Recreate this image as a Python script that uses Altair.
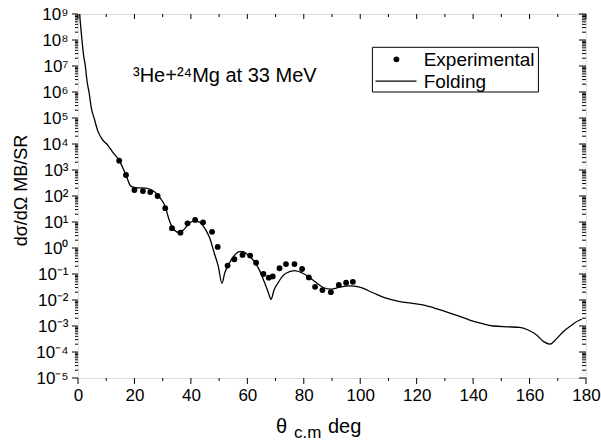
import altair as alt
import pandas as pd

# ---------------- data ----------------
exp_theta = [14.6, 17.0, 20.0, 23.0, 25.6, 28.2, 30.9, 33.3, 36.3, 38.8, 41.5, 44.3,
             47.5, 49.5, 53.0, 55.4, 58.3, 61.0, 63.1, 65.7, 67.6, 69.0, 71.4, 73.7,
             76.7, 79.4, 81.8, 84.0, 86.6, 89.6, 92.4, 95.0, 97.4]
exp_sigma = [2280, 640, 170, 155, 142, 100, 34, 5.8, 3.9, 8.9, 12, 9.7,
             4.2, 1.1, 0.21, 0.37, 0.54, 0.51, 0.27, 0.10, 0.072, 0.081, 0.166, 0.24,
             0.24, 0.156, 0.074, 0.032, 0.024, 0.020, 0.038, 0.046, 0.050]

fold_theta = [0.4, 0.6, 1.0, 1.4, 2.0, 2.6, 3.2, 3.9, 4.8, 5.7, 7.0, 8.6, 10.2, 12.2,
              14.6, 17.0, 18.7, 20.5, 24.0, 27.0, 28.8, 30.9, 32.3, 34.1, 35.9, 37.6,
              39.4, 41.2, 42.9, 45.3, 46.5, 48.3, 49.7, 51.0, 52.0, 53.6, 55.3, 57.2,
              58.5, 60.0, 62.5, 64.5, 66.0, 67.4, 68.4, 69.5, 70.8, 72.2, 73.7, 76.7,
              79.6, 83.2, 86.7, 89.7, 92.7, 96.2, 99.8, 104.5, 109.2, 114.0, 118.0,
              122.2, 126.0, 130.5, 134.5, 138.8, 143.0, 147.1, 152.0, 156.5, 159.5,
              162.5, 165.0, 167.2, 169.5, 171.9, 174.5, 177.8, 178.5]
fold_sigma = [3e9, 1e9, 3e8, 1e8, 2.5e7, 1e7, 2.6e6, 1e6, 2.2e5, 1e5, 3.2e4, 1.5e4, 1e4, 5e3,
              2.3e3, 650, 240, 210, 200, 148, 93, 39, 12, 4.9, 3.9, 5.2,
              8.9, 11, 10.2, 4.9, 2.7, 0.63, 0.2, 0.044, 0.11, 0.26, 0.5, 0.72,
              0.72, 0.56, 0.3, 0.126, 0.05, 0.02, 0.0107, 0.025, 0.044, 0.076, 0.107, 0.135,
              0.107, 0.059, 0.031, 0.026, 0.031, 0.035, 0.031, 0.019, 0.0117, 0.0087, 0.0076,
              0.0065, 0.005, 0.0035, 0.0025, 0.0017, 0.00126, 0.001, 0.00093, 0.00089, 0.0007,
              0.00045, 0.00025, 0.0002, 0.00032, 0.0006, 0.001, 0.0017, 0.0018]

series_names = ["Experimental", "Folding"]
x_major = [0, 20, 40, 60, 80, 100, 120, 140, 160, 180]
x_minor = [10, 30, 50, 70, 90, 110, 130, 150, 170]
y_decades = [1e-5, 1e-4, 1e-3, 1e-2, 1e-1, 1e0, 1e1, 1e2, 1e3, 1e4, 1e5, 1e6, 1e7, 1e8, 1e9]
y_minor = [m * d for d in y_decades[:-1] for m in range(2, 10)]
y_labels = ["10⁻⁵", "10⁻⁴", "10⁻³", "10⁻²", "10⁻¹", "10⁰", "10¹", "10²",
            "10³", "10⁴", "10⁵", "10⁶", "10⁷", "10⁸", "10⁹"]
annotation = "³He+²⁴Mg at 33 MeV"
y_title = "dσ/dΩ MB/SR"

# ---------------- layout ----------------
W, H = 508, 364
FONT = "Liberation Sans"

exp_df = pd.DataFrame({"theta": exp_theta, "sigma": exp_sigma})
fold_df = pd.DataFrame({"theta": fold_theta, "sigma": fold_sigma})

xscale = alt.Scale(domain=[0, 180], nice=False, zero=False)
yscale = alt.Scale(type="log", domain=[1e-5, 1e9], nice=False)

label_expr = "[" + ",".join("'%s'" % s for s in y_labels) + "][round(log(datum.value)/LN10)+5]"

ax_bottom = alt.Axis(orient="bottom", values=x_major, ticks=False, domain=False, grid=False,
                     labelFontSize=17, labelFont=FONT, labelColor="black", labelPadding=9,
                     labelFlush=False, labelOverlap=False, title=None)
ax_left = alt.Axis(orient="left", values=y_decades, ticks=False, domain=False, grid=False,
                   labelExpr=label_expr, labelFontSize=17, labelFont=FONT, labelColor="black",
                   labelPadding=10, labelFlush=False, labelOverlap=False,
                   title=y_title, titleFont=FONT, titleFontSize=18,
                   titleFontWeight="normal", titleColor="black", titleAngle=-90,
                   titleX=-52, titleY=176, titleAlign="center", titleBaseline="alphabetic")

line = alt.Chart(fold_df).mark_line(color="black", strokeWidth=1.3, clip=True,
                                    interpolate="monotone").encode(
    x=alt.X("theta:Q", scale=xscale, axis=ax_bottom),
    y=alt.Y("sigma:Q", scale=yscale, axis=ax_left))

points = alt.Chart(exp_df).mark_point(filled=True, color="black", opacity=1, size=34,
                                      shape="circle").encode(
    x=alt.X("theta:Q", scale=xscale, axis=None),
    y=alt.Y("sigma:Q", scale=yscale, axis=None))


# ---------------- tick marks (drawn as thin tick marks through the scales) ----------------
def xticks(vals, size, ypix):
    return alt.Chart(pd.DataFrame({"v": vals})).mark_tick(
        orient="vertical", thickness=1, size=size, color="black", opacity=1).encode(
        x=alt.X("v:Q", scale=xscale, axis=None), y=alt.value(ypix))


def yticks(vals, size, xpix):
    return alt.Chart(pd.DataFrame({"v": vals})).mark_tick(
        orient="horizontal", thickness=1, size=size, color="black", opacity=1).encode(
        y=alt.Y("v:Q", scale=yscale, axis=None), x=alt.value(xpix))


ticks = [
    xticks(x_major, 6, H + 3), xticks(x_minor, 3, H + 1.5),
    xticks(x_major, 5, 2.5), xticks(x_minor, 3, 1.5),
    yticks(y_decades, 6, -3), yticks(y_minor, 3, -1.5),
    yticks(y_decades, 7, W - 3.5), yticks(y_minor, 4, W - 2),
]

# ---------------- legend and annotations ----------------
one = alt.Chart(pd.DataFrame({"k": [0]}))
leg_box = one.mark_rect(fill="white", stroke="black", strokeWidth=1).encode(
    x=alt.value(294.4), x2=alt.value(460.4), y=alt.value(33.3), y2=alt.value(78))
leg_dot = one.mark_point(filled=True, color="black", opacity=1, size=34, shape="circle").encode(
    x=alt.value(318.4), y=alt.value(45.3))
leg_line = one.mark_tick(orient="horizontal", thickness=1.3, size=41, color="black",
                         opacity=1).encode(x=alt.value(318.0), y=alt.value(67.2))
leg_t1 = one.mark_text(text=series_names[0], font=FONT, fontSize=19, align="left",
                       baseline="alphabetic", color="black").encode(
    x=alt.value(345.7), y=alt.value(52))
leg_t2 = one.mark_text(text=series_names[1], font=FONT, fontSize=19, align="left",
                       baseline="alphabetic", color="black").encode(
    x=alt.value(345.7), y=alt.value(74))

annot = one.mark_text(text=annotation, font=FONT, fontSize=20, align="left",
                      baseline="alphabetic", color="black").encode(
    x=alt.value(55), y=alt.value(68))
xt_theta = one.mark_text(text="θ", font=FONT, fontSize=20, align="left",
                         baseline="alphabetic", color="black").encode(
    x=alt.value(198), y=alt.value(419))
xt_sub = one.mark_text(text="c.m", font=FONT, fontSize=17, align="left",
                       baseline="alphabetic", color="black").encode(
    x=alt.value(216), y=alt.value(424))
xt_deg = one.mark_text(text="deg", font=FONT, fontSize=20, align="left",
                       baseline="alphabetic", color="black").encode(
    x=alt.value(250), y=alt.value(419))

chart = alt.layer(
    line, points, *ticks, leg_box, leg_dot, leg_line, leg_t1, leg_t2,
    annot, xt_theta, xt_sub, xt_deg
).resolve_axis(x="independent", y="independent").properties(
    width=W, height=H, autosize=alt.AutoSizeParams(type="none"),
    padding={"left": 78, "top": 14, "right": 15, "bottom": 63}
).configure_view(stroke="black", strokeWidth=1.5).configure(background="white")

chart.save("out.html", embed_options={"renderer": "svg", "actions": False})
